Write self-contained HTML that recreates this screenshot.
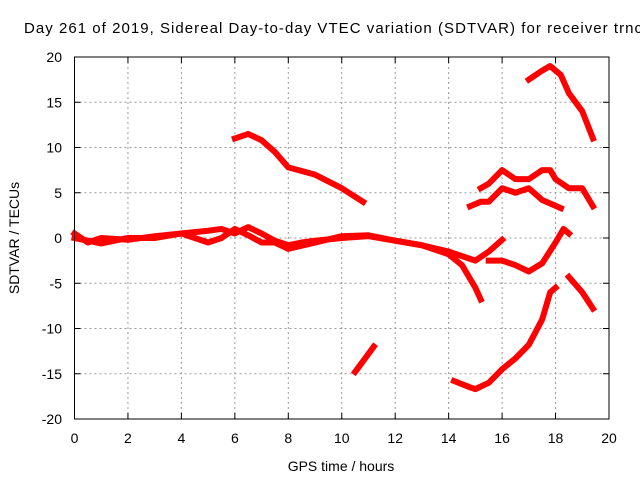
<!DOCTYPE html>
<html><head><meta charset="utf-8"><style>
body{margin:0;background:#fff}
svg text{font-family:"Liberation Sans",sans-serif;fill:#000}
</style></head><body>
<svg id="c" width="640" height="480">
<text x="24" y="33" font-size="15" textLength="618" lengthAdjust="spacing">Day 261 of 2019, Sidereal Day-to-day VTEC variation (SDTVAR) for receiver trnc</text>
<g id="grid"></g><g id="ticks"></g><g id="series"></g>
<rect x="74.5" y="57" width="534.5" height="362" fill="none" stroke="#000" stroke-width="1"/>
<text x="341" y="471" font-size="14" text-anchor="middle">GPS time / hours</text>
<text transform="translate(19,238) rotate(-90)" font-size="14" text-anchor="middle">SDTVAR / TECUs</text>
</svg>
<script>
const xTicks=[0,2,4,6,8,10,12,14,16,18,20];
const yTicks=[-20,-15,-10,-5,0,5,10,15,20];
const s1=[[0,0.5],[0.5,-0.5],[1,0],[2,-0.2],[3,0.2],[4,0.5],[5,0.8],[5.5,1],[6,0.5],[6.5,1.2],[7,0.5],[7.5,-0.3],[8,-0.8],[8.5,-0.5],[9,-0.3],[10,0],[11,0.2],[12,-0.3],[13,-0.8],[14,-1.5],[14.5,-2],[15,-2.5],[15.5,-1.5],[16,-0.2]];
const s2=[[0,0],[1,-0.6],[2,0],[3,0],[4,0.5],[5,-0.5],[5.5,0],[6,1],[6.5,0.3],[7,-0.5],[7.5,-0.5],[8,-1.2],[9,-0.5],[10,0.2],[11,0.3],[12,-0.3],[13,-0.8],[14,-1.8],[14.5,-3],[15,-5.5],[15.2,-6.8]];
const s3=[[10.5,-14.8],[11.2,-12]];
const s4=[[6,11],[6.5,11.5],[7,10.8],[7.5,9.5],[8,7.8],[9,7],[10,5.5],[10.8,4]];
const s5=[[17,17.5],[17.5,18.5],[17.8,19],[18.2,18],[18.5,16],[19,14],[19.4,11]];
const s6=[[15.2,5.5],[15.5,6],[16,7.5],[16.5,6.5],[17,6.5],[17.5,7.5],[17.8,7.5],[18,6.5],[18.5,5.5],[19,5.5],[19.4,3.5]];
const s7=[[14.8,3.5],[15.2,4],[15.5,4],[16,5.5],[16.5,5],[17,5.5],[17.5,4.2],[18.2,3.3]];
const s8=[[15.5,-2.5],[16,-2.5],[16.5,-3],[17,-3.7],[17.5,-2.8],[18,-0.5],[18.3,1],[18.5,0.5]];
const s9=[[18.5,-4.3],[19,-6],[19.4,-7.8]];
const s10=[[14.2,-15.8],[14.8,-16.5],[15,-16.7],[15.5,-16],[16,-14.5],[16.5,-13.3],[17,-11.8],[17.5,-9],[17.8,-6],[18,-5.5]];
const allSeries=[s1,s2,s3,s4,s5,s6,s7,s8,s9,s10];
const X=v=>74.5+v*(534.5/20), Y=v=>238-v*(362/40);
const NS="http://www.w3.org/2000/svg";
function mk(t,a,p){const e=document.createElementNS(NS,t);for(const k in a)e.setAttribute(k,a[k]);p.appendChild(e);return e;}
const g=document.getElementById('grid'),tk=document.getElementById('ticks'),se=document.getElementById('series');
xTicks.forEach(v=>{
 if(v>0&&v<20){const l=mk('line',{x1:X(v),x2:X(v),y1:57,y2:419,stroke:'#999','stroke-dasharray':'2,3'},g);
 
 }
 mk('line',{x1:X(v),x2:X(v),y1:419,y2:413,stroke:'#000'},tk);
 mk('line',{x1:X(v),x2:X(v),y1:57,y2:63,stroke:'#000'},tk);
 const t=mk('text',{x:X(v),y:443,'font-size':14,'text-anchor':'middle'},tk);t.textContent=v;
 
 
});
yTicks.forEach(v=>{
 if(v>-20&&v<20){const l=mk('line',{x1:74.5,x2:609,y1:Y(v),y2:Y(v),stroke:'#999','stroke-dasharray':'2,3'},g);
 
 }
 mk('line',{x1:74.5,x2:80.5,y1:Y(v),y2:Y(v),stroke:'#000'},tk);
 mk('line',{x1:603,x2:609,y1:Y(v),y2:Y(v),stroke:'#000'},tk);
 const t=mk('text',{x:62,y:Y(v)+5,'font-size':14,'text-anchor':'end'},tk);t.textContent=v;
 
 
});
allSeries.forEach(s=>{
 const p=mk('polyline',{points:s.map(d=>X(d[0])+','+Y(d[1])).join(' '),fill:'none',stroke:'#f00','stroke-width':6,'stroke-linejoin':'round','stroke-linecap':'square'},se);
 
 
});
</script>
</body></html>
